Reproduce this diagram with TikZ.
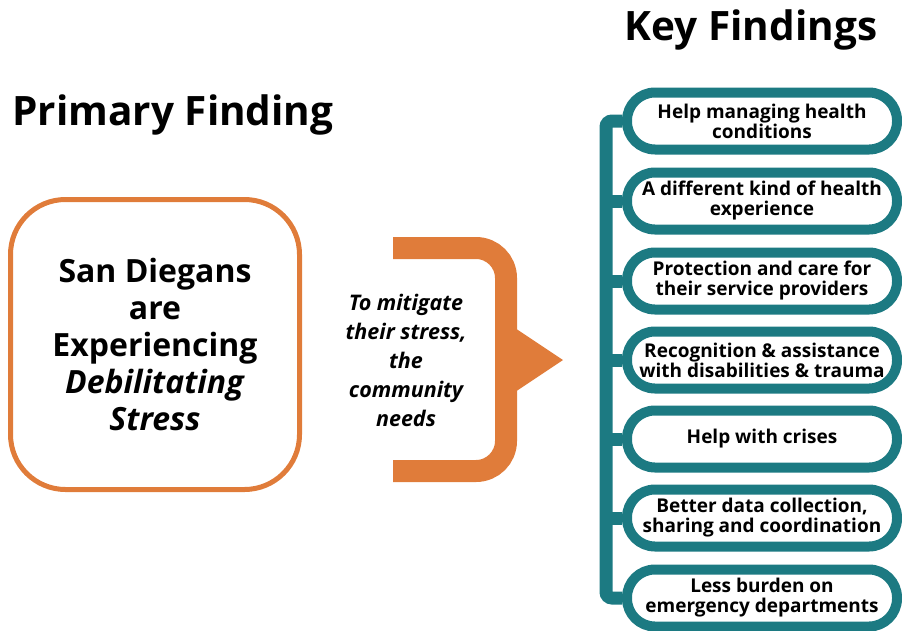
\documentclass[tikz,border=0pt]{standalone}
\usepackage{fontspec}
\setmainfont{Open Sans}
\usepackage{xcolor}
\usetikzlibrary{arrows.meta}

\definecolor{rust}{RGB}{224,124,58}
\definecolor{teal}{RGB}{28,122,130}

\begin{document}
\begin{tikzpicture}[x=1pt,y=-1pt,
    heading/.style={font=\fontsize{40.5}{44}\selectfont\bfseries},
    mainbox/.style={draw=rust,line width=5pt,rounded corners=55pt,
        minimum width=289pt,minimum height=290pt,align=center,
        font=\fontsize{32}{37.2}\selectfont\bfseries},
    need/.style={align=center,font=\fontsize{21.5}{29}\selectfont\bfseries\itshape},
    pill/.style={draw=teal,line width=10pt,rounded corners=28pt,
        minimum width=270pt,minimum height=57pt,align=center,inner sep=0pt,
        font=\fontsize{19}{20}\selectfont\bfseries},
    Spine/.style={draw=teal,line width=13pt},
                        ]
    \useasboundingbox (0,0) rectangle (902,630);
    \node[heading] (key_title)     at (751,30)  {Key Findings};
    \node[heading] (primary_title) at (173,115) {Primary Finding};

    \node[mainbox] (stress_box) at (155,344.5) {San Diegans\\are\\Experiencing\\\textit{Debilitating}\\\textit{Stress}};
    \node[need] (needs_text) at (406,360) {To mitigate\\their stress,\\the\\community\\needs};

    % orange bracket and its pointer
    \draw[rust,line width=22pt,rounded corners=30pt] (393,248) -- (506,248) -- (506,471) -- (393,471);
    \fill[rust] (515,328) -- (563,360) -- (515,392) -- cycle;

    \node[pill] (find_one)   at (762,121) {Help managing health\\conditions};
    \node[pill] (find_two)   at (762,201) {A different kind of health\\experience};
    \node[pill] (find_three) at (762,281) {Protection and care for\\their service providers};
    \node[pill] (find_four)  at (762,360) {Recognition \& assistance\\with disabilities \& trauma};
    \node[pill] (find_five)  at (762,439) {Help with crises};
    \node[pill] (find_six)   at (762,518) {Better data collection,\\sharing and coordination};
    \node[pill] (find_seven) at (762,598) {Less burden on\\emergency departments};

    \coordinate (spine_top) at (606,121);
    \draw[Spine,rounded corners=6pt] (find_one.west) -- (spine_top) |- (find_seven.west);
    \foreach \f in {find_two,find_three,find_four,find_five,find_six}
        \draw[Spine] (\f.west) -- (\f.west -| spine_top);
\end{tikzpicture}
\end{document}
